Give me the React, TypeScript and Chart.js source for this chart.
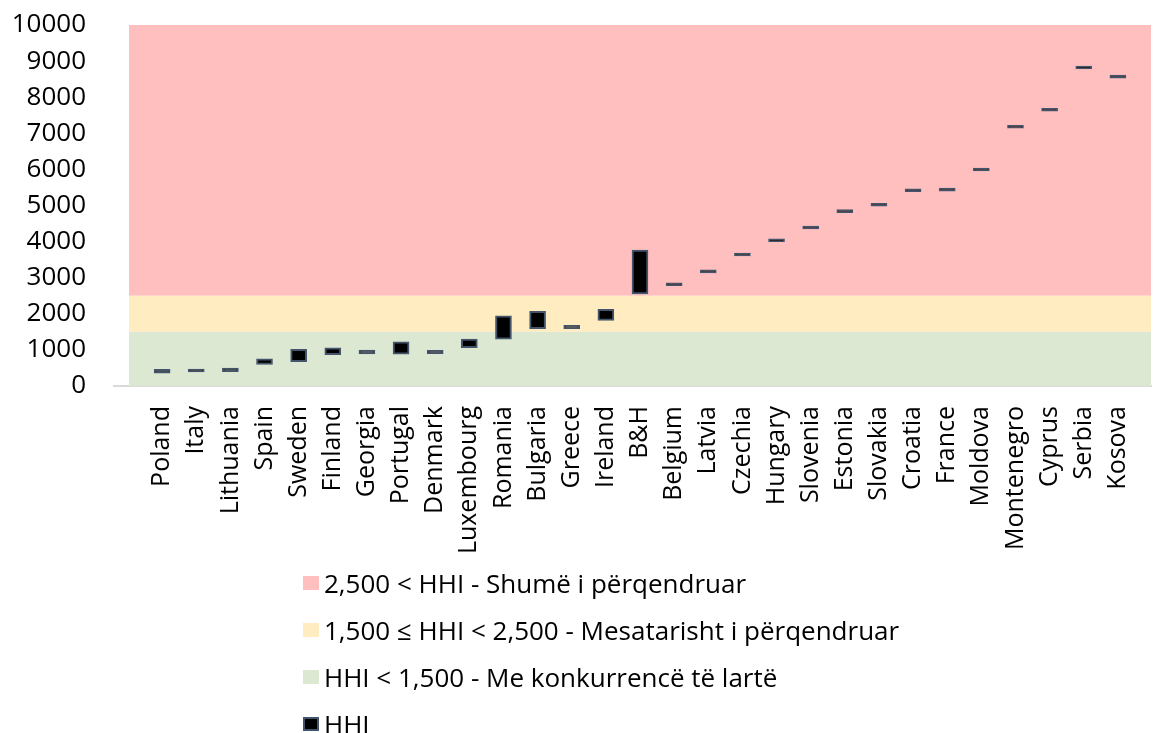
import React, { useEffect, useRef } from "react";
import { Chart, registerables } from "chart.js";

Chart.register(...registerables);

const categories = [
  "Poland", "Italy", "Lithuania", "Spain", "Sweden", "Finland", "Georgia", "Portugal",
  "Denmark", "Luxembourg", "Romania", "Bulgaria", "Greece", "Ireland", "B&H", "Belgium",
  "Latvia", "Czechia", "Hungary", "Slovenia", "Estonia", "Slovakia", "Croatia", "France",
  "Moldova", "Montenegro", "Cyprus", "Serbia", "Kosova",
];
const hhiLow = [
  355, 390, 400, 600, 675, 870, 890, 885, 895, 1060, 1300, 1590, 1590, 1820, 2550, 2780,
  3130, 3600, 3995, 4350, 4800, 4980, 5380, 5400, 5955, 7140, 7610, 8785, 8525,
];
const hhiHigh = [
  460, 470, 495, 750, 1015, 1055, 995, 1225, 990, 1300, 1945, 2070, 1680, 2125, 3765, 2860,
  3215, 3685, 4075, 4430, 4885, 5060, 5465, 5485, 6040, 7220, 7695, 8865, 8610,
];

const bandLabels = [
  "2,500 < HHI - Shumë i përqendruar",
  "1,500 ≤ HHI < 2,500 - Mesatarisht i përqendruar",
  "HHI < 1,500 - Me konkurrencë të lartë",
];
const bandLow = [2500, 1500, 0];
const bandHigh = [10000, 2500, 1500];
const bandColors = ["#FFBFBF", "#FFECC1", "#DDE8D3"];

const yTicks = [0, 1000, 2000, 3000, 4000, 5000, 6000, 7000, 8000, 9000, 10000];

const FONT = "'Open Sans', sans-serif";

const bandsPlugin = {
  id: "bands",
  beforeDatasetsDraw(chart: any) {
    const { ctx, chartArea, scales } = chart;
    const y = scales.y;
    ctx.save();
    for (let i = 0; i < bandLow.length; i++) {
      const top = y.getPixelForValue(bandHigh[i]);
      const bottom = y.getPixelForValue(bandLow[i]);
      ctx.fillStyle = bandColors[i];
      ctx.fillRect(chartArea.left, top, chartArea.right - chartArea.left, bottom - top);
    }
    // short extension of the category axis line to the left of the plot area
    const base = y.getPixelForValue(0);
    ctx.strokeStyle = "#D9D9D9";
    ctx.lineWidth = 2;
    ctx.beginPath();
    ctx.moveTo(chartArea.left - 16, base);
    ctx.lineTo(chartArea.left, base);
    ctx.stroke();
    ctx.restore();
  },
};

function HHIChart() {
  const ref = useRef<HTMLCanvasElement | null>(null);
  useEffect(() => {
    if (!ref.current) return;
    const chart = new Chart(ref.current, {
      type: "bar",
      data: {
        datasets: [
          {
            label: "HHI",
            data: categories.map((_, i) => ({ x: i, y: [hhiLow[i], hhiHigh[i]] })) as any,
            backgroundColor: "#000000",
            borderColor: "#44546A",
            borderWidth: 2,
            borderSkipped: false,
            barThickness: 16,
          },
        ],
      },
      options: {
        animation: false,
        responsive: false,
        maintainAspectRatio: false,
        layout: { padding: { top: 25, right: 3, left: 0, bottom: 0 } },
        plugins: { legend: { display: false }, tooltip: { enabled: false } },
        scales: {
          x: {
            type: "linear",
            offset: false,
            min: -0.97,
            max: 28.97,
            grid: { display: false, offset: false, tickLength: 0 },
            border: { display: true, color: "#D9D9D9", width: 2 },
            afterBuildTicks: (scale: any) => {
              scale.ticks = categories.map((_, i) => ({ value: i }));
            },
            afterFit: (scale: any) => {
              scale.height = 174;
              scale.paddingLeft = 0;
              scale.paddingRight = 0;
            },
            ticks: {
              autoSkip: false,
              minRotation: 90,
              maxRotation: 90,
              padding: 20,
              color: "#000000",
              font: { family: FONT, size: 25 },
              callback: (v: any) => categories[Math.round(Number(v))] ?? "",
            },
          },
          y: {
            min: 0,
            max: 10000,
            grid: { display: false, tickLength: 0 },
            border: { display: false },
            afterBuildTicks: (scale: any) => {
              scale.ticks = yTicks.map((v) => ({ value: v }));
            },
            afterFit: (scale: any) => {
              scale.width = 129;
              scale.paddingTop = 0;
              scale.paddingBottom = 0;
            },
            ticks: {
              padding: 43,
              color: "#000000",
              font: { family: FONT, size: 26 },
              callback: (v: any) => String(v),
            },
          },
        },
      },
      plugins: [bandsPlugin],
    });
    return () => chart.destroy();
  }, []);
  return <canvas ref={ref} width={1154} height={560} style={{ display: "block" }} />;
}

function Legend() {
  const items = [
    ...bandLabels.map((l, i) => ({ label: l, bg: bandColors[i], border: "none" })),
    { label: "HHI", bg: "#000000", border: "2px solid #44546A" },
  ];
  return (
    <div
      style={{
        position: "absolute",
        left: 303,
        top: 559,
        fontFamily: FONT,
        fontSize: 26,
        color: "#000",
      }}
    >
      {items.map((it) => (
        <div
          key={it.label}
          style={{ height: 47, display: "flex", alignItems: "center", whiteSpace: "nowrap" }}
        >
          <span
            style={{
              display: "inline-block",
              width: 16,
              height: 14,
              boxSizing: "border-box",
              background: it.bg,
              border: it.border,
              marginRight: 5,
            }}
          />
          <span>{it.label}</span>
        </div>
      ))}
    </div>
  );
}

export default function App() {
  return (
    <div
      style={{
        position: "absolute",
        left: 0,
        top: 0,
        width: 1154,
        height: 733,
        background: "#fff",
        overflow: "hidden",
      }}
    >
      <HHIChart />
      <Legend />
    </div>
  );
}
